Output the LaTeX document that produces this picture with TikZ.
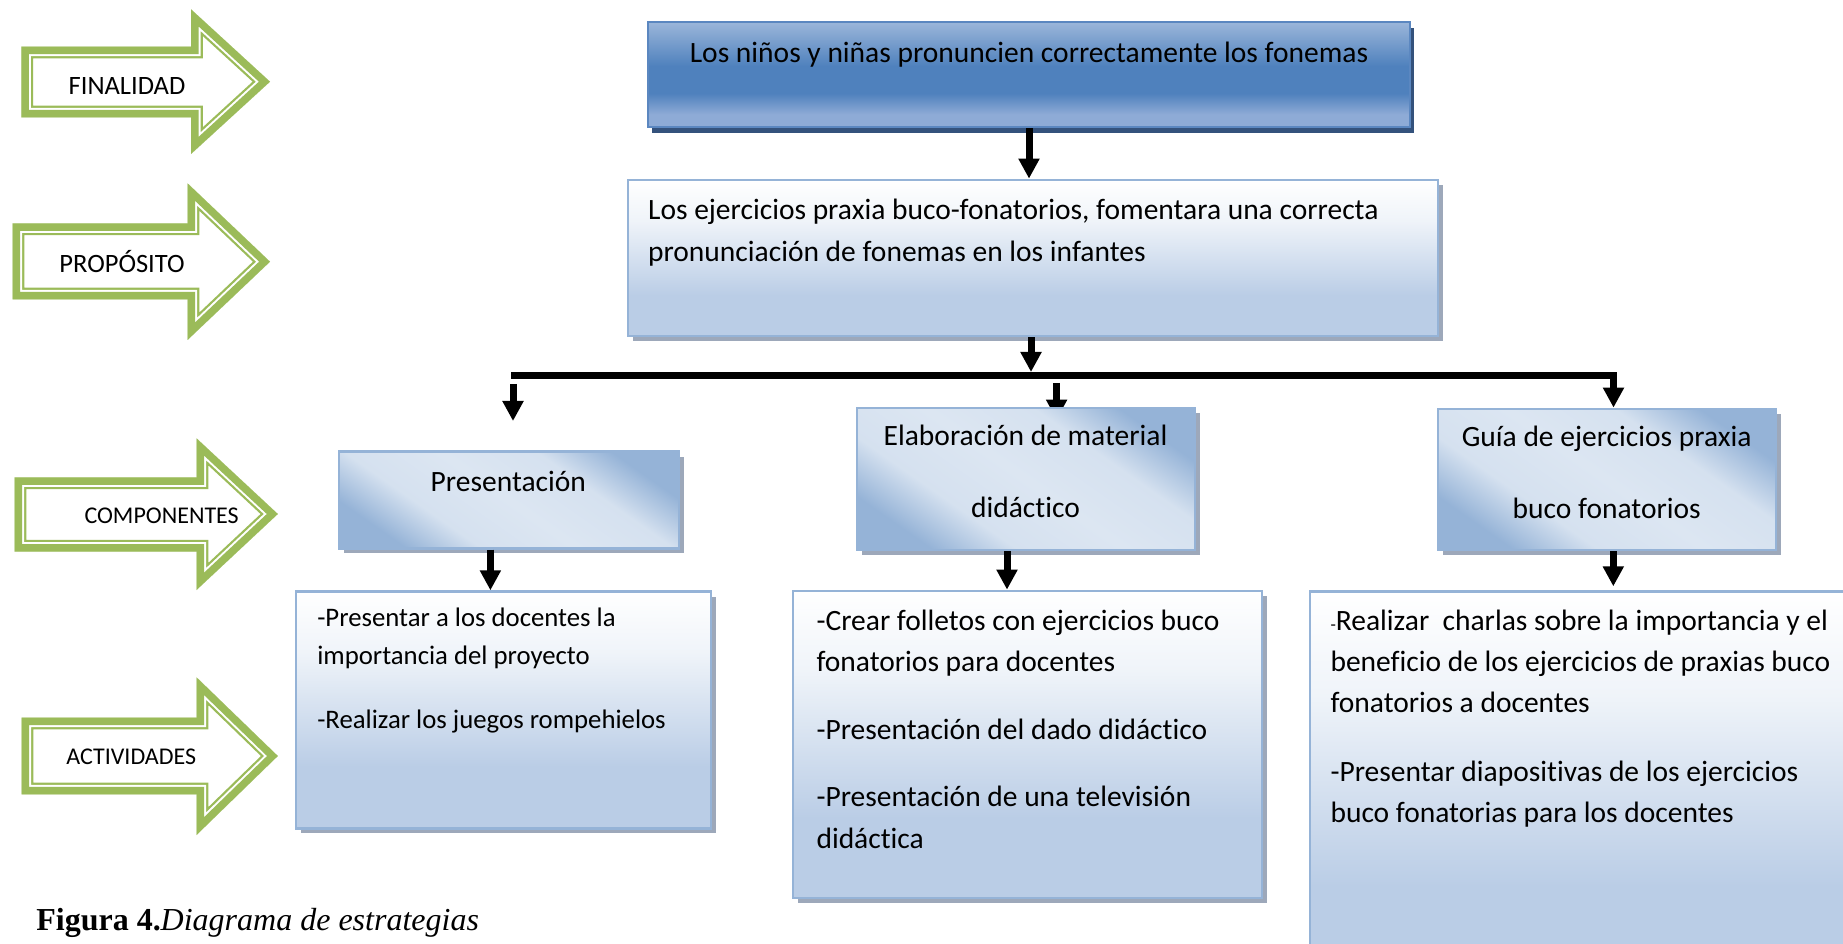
\documentclass[tikz,border=0pt]{standalone}
\usepackage{fontspec}
\setmainfont{Carlito}[Ligatures=NoCommon]
\newfontfamily\capfont{Liberation Serif}
\usetikzlibrary{arrows.meta,shadows,fit,calc}
\definecolor{cgreen}{HTML}{9BBB59}
\definecolor{bluedark}{HTML}{4F81BD}
\definecolor{bluemid}{HTML}{95B3D7}
\definecolor{bluelight}{HTML}{DCE6F2}
\definecolor{actbot}{HTML}{BACDE6}
\definecolor{shgrey}{HTML}{9DA8BA}
\definecolor{topshadow}{HTML}{34527C}
\definecolor{topbot}{HTML}{8EABD6}
\definecolor{toptop}{HTML}{9BB6DA}
\definecolor{topborder}{HTML}{5B87C0}
\pgfdeclarelayer{bg}
\pgfsetlayers{bg,main}
\pgfdeclareverticalshading{lightshade}{100bp}{color(0bp)=(actbot); color(25bp)=(actbot); color(38bp)=(actbot); color(62bp)=(bluelight!45!white); color(75bp)=(white); color(100bp)=(white)}
\pgfdeclareverticalshading{topshade}{100bp}{color(0bp)=(topbot); color(25bp)=(topbot); color(31bp)=(topbot); color(41bp)=(bluedark); color(54bp)=(bluedark); color(75bp)=(toptop); color(100bp)=(toptop)}
\pgfdeclareverticalshading{compshade}{100bp}{color(0bp)=(bluemid); color(25bp)=(bluemid); color(36bp)=(bluelight!90!bluemid); color(50bp)=(bluelight); color(64bp)=(bluelight!90!bluemid); color(75bp)=(bluemid); color(100bp)=(bluemid)}
\newcommand\grarrow[8]{%
  \begin{scope}
    \clip (#1,#2) -- (#4,#2) -- (#4,#5) -- (#7,#8) -- (#4,#6) -- (#4,#3) -- (#1,#3) -- cycle;
    \fill[white] (#1,#5) rectangle (#7,#6);
    \draw[cgreen, line width=9.4pt, line join=miter] (#1,#2) -- (#4,#2) -- (#4,#5) -- (#7,#8) -- (#4,#6) -- (#4,#3) -- (#1,#3) -- cycle;
    \draw[white, line width=7.6pt, line join=miter] (#1,#2) -- (#4,#2) -- (#4,#5) -- (#7,#8) -- (#4,#6) -- (#4,#3) -- (#1,#3) -- cycle;
    \draw[cgreen, line width=6pt, line join=miter] (#1,#2) -- (#4,#2) -- (#4,#5) -- (#7,#8) -- (#4,#6) -- (#4,#3) -- (#1,#3) -- cycle;
  \end{scope}}
\tikzset{
  lightbox/.style={draw=bluemid, line width=1.1pt, shading=lightshade, inner sep=0pt,
    drop shadow={shadow xshift=1.8pt, shadow yshift=-2pt, fill=shgrey, opacity=1}},
  compbox/.style={draw=bluemid, line width=1.1pt, shading=compshade, shading angle=-35, inner sep=0pt,
    drop shadow={shadow xshift=1.8pt, shadow yshift=-2pt, fill=shgrey, opacity=1}},
  topbox/.style={draw=topborder, line width=1.1pt, shading=topshade, inner sep=0pt,
    drop shadow={shadow xshift=1.6pt, shadow yshift=-2.4pt, fill=topshadow, opacity=1}},
  conn/.style={line width=2.8pt, -{Triangle[width=8pt,length=8pt]}},
  lbl/.style={anchor=base, inner sep=0pt, font=\fontsize{10.6}{12}\selectfont},
  lblsmall/.style={anchor=base, inner sep=0pt, font=\fontsize{9.6}{12}\selectfont},
  txt/.style={inner sep=0pt, font=\fontsize{11.8}{16.7}\selectfont},
}
\begin{document}
\begin{tikzpicture}[x=0.4pt,y=-0.4pt]
\useasboundingbox (0,0) rectangle (1843,944);
\clip (0,0) rectangle (1843,944);

% left green arrows
\grarrow{21.4}{46.7}{117.3}{191}{9.3}{154}{270}{81.7}
\grarrow{12.5}{223.3}{299.3}{187.5}{183.3}{340}{270}{261.7}
\grarrow{14.7}{477.3}{551.7}{196.5}{438.3}{590}{277.8}{514}
\grarrow{21.6}{717.7}{794.3}{196.5}{677.3}{835}{277.8}{756}
\node[lbl] (finalidad) at (127,95) {FINALIDAD};
\node[lbl] (proposito) at (122,272.7) {PROPÓSITO};
\node[lblsmall] (componentes) at (161.6,523.3) {COMPONENTES};
\node[lblsmall] (actividades) at (131.3,764.3) {ACTIVIDADES};

% boxes
\node[topbox, fit={(648,22)(1410,127)}] (top) {};
\node[lightbox, fit={(628,180)(1438,336)}] (prop) {};
\node[compbox, fit={(339,451.7)(679,548.3)}] (pres) {};
\node[compbox, fit={(857,408)(1195,550)}] (elab) {};
\node[compbox, fit={(1438,409)(1776,550)}] (guia) {};
\node[lightbox, fit={(296,591.7)(711,828.3)}] (act1) {};
\node[lightbox, fit={(793,591)(1262,898)}] (act2) {};
\node[lightbox, fit={(1310,591.7)(1880,990)}] (act3) {};

% texts
\node[txt, anchor=base] (toptext) at (1029,63) {Los niños y niñas pronuncien correctamente los fonemas};
\node[txt, anchor=base west] (proptext) at (647.6,220) {\begin{tabular}[t]{@{}l@{}}Los ejercicios praxia buco-fonatorios, fomentara una correcta\\pronunciación de fonemas en los infantes\end{tabular}};
\node[txt, anchor=base] (prestext) at (508.3,491.7) {Presentación};
\node[txt, anchor=base] (elabtext) at (1025.5,446) {\begin{tabular}[t]{@{}c@{}}Elaboración de material\\[11.9pt]didáctico\end{tabular}};
\node[txt, anchor=base] (guiatext) at (1606.7,447) {\begin{tabular}[t]{@{}c@{}}Guía de ejercicios praxia\\[11.9pt]buco fonatorios\end{tabular}};
\node[txt, anchor=base west, font=\fontsize{10.7}{15.3}\selectfont] (act1text) at (316.8,626.7) {\begin{tabular}[t]{@{}l@{}}-Presentar a los docentes la\\importancia del proyecto\\[10pt]-Realizar los juegos rompehielos\end{tabular}};
\node[txt, anchor=base west, font=\fontsize{11.8}{16.6}\selectfont] (act2text) at (816,630) {\begin{tabular}[t]{@{}l@{}}-Crear folletos con ejercicios buco\\fonatorios para docentes\\[10.6pt]-Presentación del dado didáctico\\[10.3pt]-Presentación de una televisión\\didáctica\end{tabular}};
\node[txt, anchor=base west, font=\fontsize{11.8}{16.4}\selectfont] (act3text) at (1330,630) {\begin{tabular}[t]{@{}l@{}}{\fontsize{7}{7}\selectfont -}Realizar\ \ charlas sobre la importancia y el\\beneficio de los ejercicios de praxias buco\\fonatorios a docentes\\[11.2pt]-Presentar diapositivas de los ejercicios\\buco fonatorias para los docentes\end{tabular}};
\node[anchor=base west, inner sep=0pt, font=\capfont\fontsize{12.8}{15}\selectfont] (caption) at (35.8,930) {\textbf{Figura 4.}\textit{Diagrama de estrategias}};

% connectors
\coordinate (barL) at (511,375.5);
\coordinate (barR) at (1613.5,375.5);
\coordinate (l1) at (513,384);
\coordinate (l2) at (513,421);
\coordinate (m1) at (1056.6,383);
\coordinate (p1) at ($(pres.south)+(-18.6,0)$);
\coordinate (e1) at ($(elab.south)+(-19,0)$);
\coordinate (g1) at ($(guia.south)+(6.3,0)$);
\draw[conn] (top.south) -- (top.south |- prop.north);
\draw[conn] ($(top.south |- prop.south)+(2,0)$) -- ($(top.south |- barL)+(2,-3.5)$);
\draw[conn] (barL) -- (barR) -- (barR |- guia.north);
\draw[conn] (l1) -- (l2);
\begin{pgfonlayer}{bg}
\draw[conn] (m1) -- ($(m1 |- elab.north)+(0,13)$);
\end{pgfonlayer}
\draw[conn] (p1) -- (p1 |- act1.north);
\draw[conn] (e1) -- (e1 |- act2.north);
\draw[conn, shorten >=1.6pt] (g1) -- (g1 |- act3.north);
\end{tikzpicture}
\end{document}
